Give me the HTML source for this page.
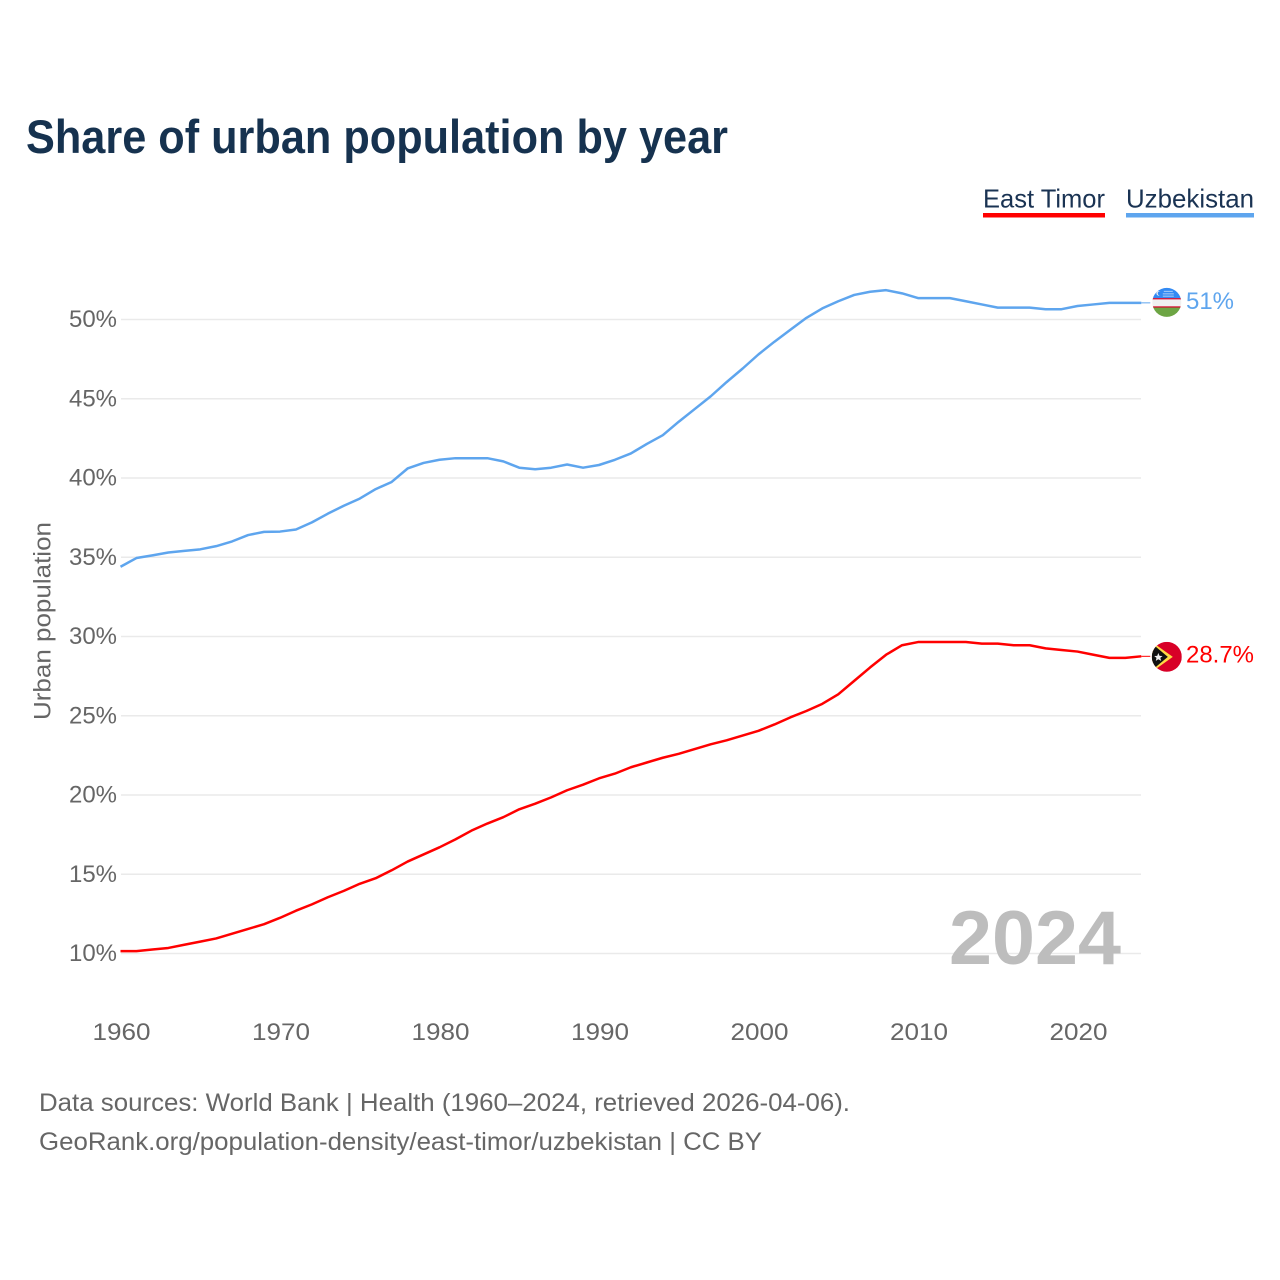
<!DOCTYPE html>
<html lang="en">
<head>
<meta charset="utf-8">
<title>Share of urban population by year</title>
<style>
  html, body { margin: 0; padding: 0; background: #fff; }
  svg { display: block; }
  text { font-family: "Liberation Sans", Arial, sans-serif; }
</style>
</head>
<body>
<svg id="chart" xmlns="http://www.w3.org/2000/svg" width="1280" height="1280" viewBox="0 0 1280 1280">
  <defs>
    <clipPath id="flag-clip"><circle cx="0" cy="0" r="14.5"></circle></clipPath>
    <clipPath id="flag-clip-large"><circle cx="0" cy="0" r="15"></circle></clipPath>
  </defs>
  <rect x="0" y="0" width="1280" height="1280" fill="#fff"></rect>
  <text x="26" y="153" font-size="47" font-weight="700" fill="#16324f" textLength="702" lengthAdjust="spacingAndGlyphs">Share of urban population by year</text>

  <g>
    <g>
      <text x="983" y="207.5" font-size="26" fill="#1a3353" textLength="122" lengthAdjust="spacingAndGlyphs">East Timor</text>
      <rect x="983" y="213" width="122" height="4.5" fill="#ff0000"></rect>
    </g>
    <g>
      <text x="1126" y="207.5" font-size="26" fill="#1a3353" textLength="128" lengthAdjust="spacingAndGlyphs">Uzbekistan</text>
      <rect x="1126" y="213" width="128" height="4.5" fill="#5ea5ee"></rect>
    </g>
  </g>

  <g id="grid"></g>
  <g id="y-ticks"></g>
  <g id="x-ticks"></g>

  <text x="0" y="0" transform="translate(50.5,621) rotate(-90)" text-anchor="middle" font-size="24" fill="#666" textLength="198" lengthAdjust="spacingAndGlyphs">Urban population</text>

  <text x="949" y="964" font-size="76" font-weight="700" fill="#bdbdbd" textLength="172" lengthAdjust="spacingAndGlyphs">2024</text>

  <g id="series"></g>

  <g id="flag-uz">
    <g clip-path="url(#flag-clip)">
      <rect x="-15" y="-15" width="30" height="11" fill="#338af3"></rect>
      <rect x="-15" y="-4" width="30" height="9" fill="#f0f0f0"></rect>
      <rect x="-15" y="5" width="30" height="10" fill="#6da544"></rect>
      <rect x="-15" y="-4.2" width="30" height="1.2" fill="#d80027"></rect>
      <rect x="-15" y="4" width="30" height="1.2" fill="#d80027"></rect>
      <circle cx="-8" cy="-9" r="2.4" fill="#f0f0f0"></circle>
      <circle cx="-7" cy="-9" r="2.1" fill="#338af3"></circle>
      <rect x="-3" y="-11.5" width="9" height="1" fill="#a9cdf8"></rect>
      <rect x="-4" y="-9" width="11" height="1" fill="#a9cdf8"></rect>
      <rect x="-4" y="-6.7" width="11" height="1" fill="#a9cdf8"></rect>
    </g>
  </g>

  <g id="flag-tl">
    <g clip-path="url(#flag-clip-large)">
      <rect x="-15" y="-15" width="30" height="30" fill="#d80027"></rect>
      <polygon points="-15,-15 6,0 -15,15" fill="#ffda44"></polygon>
      <polygon points="-15,-13.5 1,0 -15,13.5" fill="#111"></polygon>
      <polygon points="-8.5,-3.8 -7.2,-1 -4.2,-0.8 -6.5,1.1 -5.6,4 -8.5,2.4 -11,4 -10.3,1.1 -12.6,-0.8 -9.6,-1" fill="#f0f0f0"></polygon>
    </g>
  </g>

  <g>
    <text x="39" y="1111" font-size="25" fill="#666" textLength="811" lengthAdjust="spacingAndGlyphs">Data sources: World Bank | Health (1960–2024, retrieved 2026-04-06).</text>
    <text x="39" y="1150" font-size="25" fill="#666" textLength="723" lengthAdjust="spacingAndGlyphs">GeoRank.org/population-density/east-timor/uzbekistan | CC BY</text>
  </g>
</svg>
<script>
const years = [1960,1961,1962,1963,1964,1965,1966,1967,1968,1969,1970,1971,1972,1973,1974,1975,1976,1977,1978,1979,1980,1981,1982,1983,1984,1985,1986,1987,1988,1989,1990,1991,1992,1993,1994,1995,1996,1997,1998,1999,2000,2001,2002,2003,2004,2005,2006,2007,2008,2009,2010,2011,2012,2013,2014,2015,2016,2017,2018,2019,2020,2021,2022,2023,2024];
const uzbekistanValues = [34.4,34.95,35.12,35.3,35.4,35.5,35.7,36.0,36.4,36.6,36.62,36.75,37.2,37.75,38.25,38.7,39.3,39.75,40.6,40.95,41.15,41.25,41.25,41.25,41.05,40.65,40.55,40.65,40.85,40.65,40.82,41.15,41.55,42.15,42.7,43.55,44.35,45.15,46.05,46.9,47.8,48.6,49.35,50.1,50.7,51.15,51.55,51.75,51.85,51.65,51.35,51.35,51.35,51.15,50.95,50.75,50.75,50.75,50.65,50.65,50.85,50.95,51.05,51.05,51.05];
const eastTimorValues = [10.15,10.15,10.25,10.35,10.55,10.75,10.95,11.25,11.55,11.85,12.25,12.7,13.1,13.55,13.95,14.4,14.75,15.25,15.8,16.25,16.7,17.2,17.75,18.2,18.6,19.1,19.45,19.85,20.3,20.65,21.05,21.35,21.75,22.05,22.35,22.6,22.9,23.2,23.45,23.75,24.05,24.45,24.9,25.3,25.75,26.35,27.2,28.05,28.85,29.45,29.65,29.65,29.65,29.65,29.55,29.55,29.45,29.45,29.25,29.15,29.05,28.85,28.65,28.65,28.75];
const yTickValues = [10,15,20,25,30,35,40,45,50];
const yTickLabels = ["10%","15%","20%","25%","30%","35%","40%","45%","50%"];
const xTickValues = [1960,1970,1980,1990,2000,2010,2020];
const xTickLabels = ["1960","1970","1980","1990","2000","2010","2020"];
const uzbekistanLabel = "51%";
const eastTimorLabel = "28.7%";

const NS = "http://www.w3.org/2000/svg";
function xScale(year) { return 120.5 + (year - 1960) * 15.95; }
function yScale(value) { return 953.5 - (value - 10) * 15.85; }
function make(tag, attrs, parent, content) {
  const el = document.createElementNS(NS, tag);
  for (const k in attrs) el.setAttribute(k, attrs[k]);
  if (content !== undefined) el.textContent = content;
  parent.appendChild(el);
  return el;
}

const gridGroup = document.getElementById("grid");
const yGroup = document.getElementById("y-ticks");
const xGroup = document.getElementById("x-ticks");
const seriesGroup = document.getElementById("series");

yTickValues.forEach(function (v, i) {
  const line = make("line", { x1: 121, x2: 1141, y1: yScale(v), y2: yScale(v), stroke: "#eaeaea", "stroke-width": 1.5 }, gridGroup);
  
  
  const label = make("text", { x: 117, y: yScale(v) + 7.5, "text-anchor": "end", "font-size": 24, fill: "#666", textLength: 48, lengthAdjust: "spacingAndGlyphs" }, yGroup, yTickLabels[i]);
  
  
});

xTickValues.forEach(function (v, i) {
  const label = make("text", { x: xScale(v) + 1, y: 1040, "text-anchor": "middle", "font-size": 24, fill: "#666", textLength: 58, lengthAdjust: "spacingAndGlyphs" }, xGroup, xTickLabels[i]);
  
  
});

function pathFor(values) {
  return values.map(function (v, i) {
    return (i ? "L" : "M") + xScale(years[i]).toFixed(2) + " " + yScale(v).toFixed(2);
  }).join(" ");
}

const eastTimorLine = make("path", { d: pathFor(eastTimorValues), fill: "none", stroke: "#ff0000", "stroke-width": 2.5, "stroke-linejoin": "round" }, seriesGroup);



const uzbekistanLine = make("path", { d: pathFor(uzbekistanValues), fill: "none", stroke: "#5ea5ee", "stroke-width": 2.5, "stroke-linejoin": "round" }, seriesGroup);



const lastIndex = years.length - 1;
const endX = xScale(years[lastIndex]);
const uzY = yScale(uzbekistanValues[lastIndex]);
const tlY = yScale(eastTimorValues[lastIndex]);

const uzConnector = make("line", { x1: endX, x2: endX + 9, y1: uzY, y2: uzY, stroke: "#5ea5ee", "stroke-width": 1 }, seriesGroup);



const tlConnector = make("line", { x1: endX, x2: endX + 9, y1: tlY, y2: tlY, stroke: "#ff0000", "stroke-width": 1 }, seriesGroup);



document.getElementById("flag-uz").setAttribute("transform", "translate(" + (endX + 25.5) + "," + (uzY - 0.5) + ")");
document.getElementById("flag-tl").setAttribute("transform", "translate(" + (endX + 25.5) + "," + (tlY + 0.5) + ")");

const uzValueLabel = make("text", { x: 1186, y: uzY + 6, "font-size": 24, fill: "#5ea5ee", textLength: 48, lengthAdjust: "spacingAndGlyphs" }, seriesGroup, uzbekistanLabel);



const tlValueLabel = make("text", { x: 1186, y: tlY + 6, "font-size": 24, fill: "#ff0000", textLength: 68, lengthAdjust: "spacingAndGlyphs" }, seriesGroup, eastTimorLabel);


</script>
</body>
</html>
